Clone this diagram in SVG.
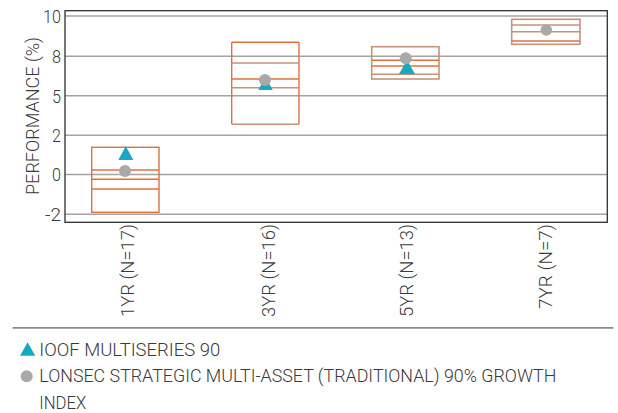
<svg xmlns="http://www.w3.org/2000/svg" width="618" height="413" viewBox="0 0 618 413">
<style>
  text { font-family: Roboto, "Liberation Sans", sans-serif; font-weight: 300; fill: #3a3a3a; font-size: 18.5px; }
  .grid { stroke: #a3a3a3; stroke-width: 1.5; fill: none; }
  .frame { stroke: #2e2e2e; stroke-width: 1.3; fill: none; }
  .box { fill: none; stroke: #e2703c; stroke-width: 1.4; }
  .o { stroke: #e2703c; stroke-width: 1.4; }
  .b { stroke: #c8917c; stroke-width: 1.6; }
  .tri { fill: #17a9c2; }
  .dot { fill: #a9a9a9; }
  .sep { stroke: #8a8a8a; stroke-width: 1.8; }
</style>
<rect width="618" height="413" fill="#ffffff"/>
<g id="axes">
  <line class="grid" x1="65" y1="16" x2="607" y2="16"/>
  <line class="grid" x1="65" y1="56.3" x2="607" y2="56.3"/>
  <line class="grid" x1="65" y1="95.7" x2="607" y2="95.7"/>
  <line class="grid" x1="65" y1="135.3" x2="607" y2="135.3"/>
  <line class="grid" x1="65" y1="174.5" x2="607" y2="174.5"/>
  <line class="grid" x1="65" y1="214.3" x2="607" y2="214.3"/>
  <rect class="frame" x="65" y="10.7" width="542.3" height="211.6"/>
  <g text-anchor="end">
    <text x="61" y="23" textLength="18" lengthAdjust="spacingAndGlyphs">10</text>
    <text x="61" y="63" textLength="9" lengthAdjust="spacingAndGlyphs">8</text>
    <text x="61" y="102.5" textLength="9" lengthAdjust="spacingAndGlyphs">5</text>
    <text x="61" y="142" textLength="9" lengthAdjust="spacingAndGlyphs">2</text>
    <text x="61" y="181.3" textLength="9" lengthAdjust="spacingAndGlyphs">0</text>
    <text x="61" y="221.3" textLength="16" lengthAdjust="spacingAndGlyphs">-2</text>
  </g>
  <text transform="translate(38.5,116) rotate(-90)" text-anchor="middle" textLength="158" lengthAdjust="spacingAndGlyphs">PERFORMANCE (%)</text>
</g>
<g id="box-1yr">
  <rect class="box" x="91.7" y="147.3" width="67.3" height="65"/>
  <line class="o" x1="91.7" y1="170" x2="159" y2="170"/>
  <line class="o" x1="91.7" y1="179.3" x2="159" y2="179.3"/>
  <line class="o" x1="91.7" y1="189" x2="159" y2="189"/>
  <polygon class="tri" points="118.3,160 133.3,160 125.8,146"/>
  <circle class="dot" cx="125" cy="171" r="6"/>
  <text transform="translate(134,224) rotate(-90)" text-anchor="end" textLength="93" lengthAdjust="spacingAndGlyphs">1YR  (N=17)</text>
</g>
<g id="box-3yr">
  <line class="o" x1="231.7" y1="42.3" x2="299" y2="42.3"/>
  <line class="o" x1="231.7" y1="42.3" x2="231.7" y2="124.3"/>
  <line class="o" x1="299" y1="42.3" x2="299" y2="124.3"/>
  <line class="b" x1="231.7" y1="124.3" x2="299" y2="124.3"/>
  <line class="b" x1="231.7" y1="63" x2="299" y2="63"/>
  <line class="o" x1="231.7" y1="79" x2="299" y2="79"/>
  <line class="b" x1="231.7" y1="87.7" x2="299" y2="87.7"/>
  <polygon class="tri" points="258.3,90 272.7,90 265.5,77"/>
  <circle class="dot" cx="265" cy="80" r="6"/>
  <text transform="translate(274.5,224) rotate(-90)" text-anchor="end" textLength="93" lengthAdjust="spacingAndGlyphs">3YR  (N=16)</text>
</g>
<g id="box-5yr">
  <rect class="b" fill="none" x="371.7" y="46.7" width="67.3" height="32.3"/>
  <line class="o" x1="371.7" y1="60.3" x2="439" y2="60.3"/>
  <line class="o" x1="371.7" y1="66" x2="439" y2="66"/>
  <line class="b" x1="371.7" y1="74.3" x2="439" y2="74.3"/>
  <polygon class="tri" points="399,74 415,74 407,60"/>
  <circle class="dot" cx="405.7" cy="58.3" r="6"/>
  <text transform="translate(413.3,224) rotate(-90)" text-anchor="end" textLength="93" lengthAdjust="spacingAndGlyphs">5YR  (N=13)</text>
</g>
<g id="box-7yr">
  <rect class="b" fill="none" x="511.7" y="19.3" width="68.3" height="25"/>
  <line class="b" x1="511.7" y1="25" x2="580" y2="25"/>
  <line class="b" x1="511.7" y1="31.7" x2="580" y2="31.7"/>
  <line class="o" x1="511.7" y1="41" x2="580" y2="41"/>
  <circle class="dot" cx="546.3" cy="30" r="5.8"/>
  <text transform="translate(551.7,224) rotate(-90)" text-anchor="end" textLength="85" lengthAdjust="spacingAndGlyphs">7YR  (N=7)</text>
</g>
<g id="legend">
  <line class="sep" x1="12.7" y1="327.8" x2="613.3" y2="327.8"/>
  <polygon class="tri" points="20,355.7 35.3,355.7 27.6,342.3"/>
  <text x="39.3" y="355.7" textLength="181" lengthAdjust="spacingAndGlyphs">IOOF MULTISERIES 90</text>
  <circle class="dot" cx="26.7" cy="376.2" r="6"/>
  <text x="39.3" y="382.3" textLength="517" lengthAdjust="spacingAndGlyphs">LONSEC STRATEGIC MULTI-ASSET (TRADITIONAL) 90% GROWTH</text>
  <text x="39.3" y="409" textLength="47" lengthAdjust="spacingAndGlyphs">INDEX</text>
</g>
</svg>
